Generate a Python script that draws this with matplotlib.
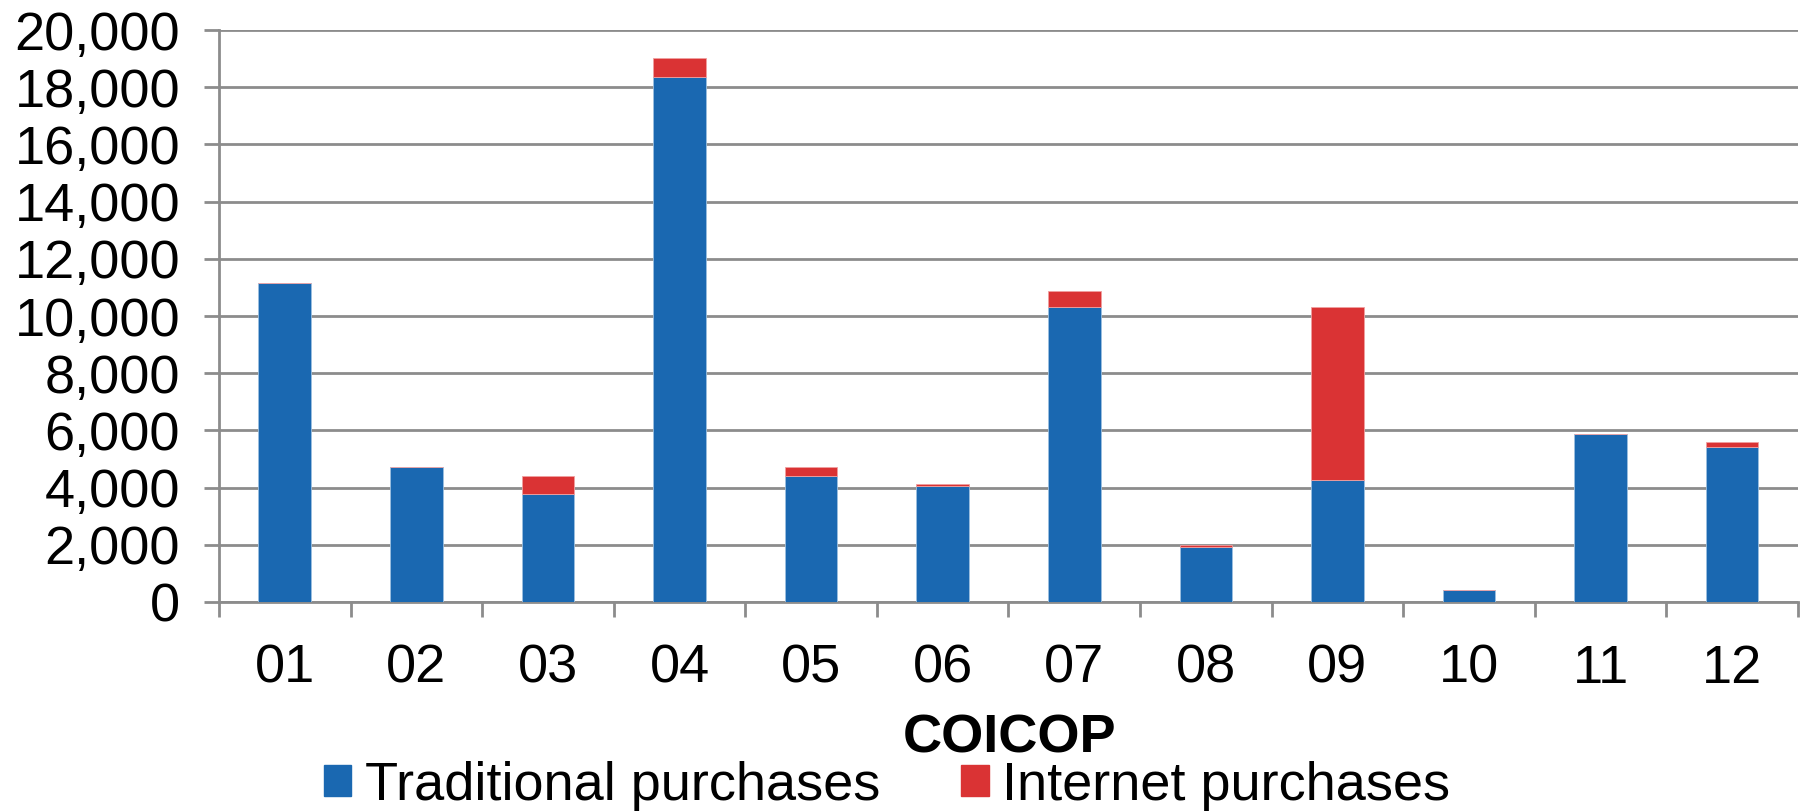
import numpy as np
import matplotlib
matplotlib.use("Agg")
import matplotlib.pyplot as plt
from matplotlib.patches import Patch
from matplotlib.ticker import FuncFormatter, FixedLocator

plt.rcParams["font.family"] = ["Liberation Sans", "DejaVu Sans"]

# ── data ──────────────────────────────────────────────────────────────────────
categories = ["01", "02", "03", "04", "05", "06", "07", "08", "09", "10", "11", "12"]
traditional = [11150, 4720, 3780, 18360, 4410, 4060, 10310, 1920, 4270, 420, 5870, 5420]
internet = [0, 0, 630, 660, 310, 70, 560, 70, 6040, 0, 0, 170]
y_ticks = [0, 2000, 4000, 6000, 8000, 10000, 12000, 14000, 16000, 18000, 20000]

BLUE = "#1a68b1"
RED = "#da3334"
GREY = "#8c8c8c"
FS = 39

fig = plt.figure(figsize=(18.07, 8.11), dpi=100)
ax = fig.add_axes([0.1212, 0.2577, 0.995 - 0.1212, 0.963 - 0.2577])

x = np.arange(len(categories))
ax.bar(x, traditional, width=0.4, color=BLUE, edgecolor="#9cc0e0", linewidth=0.6, zorder=3)
ax.bar(x, internet, width=0.4, bottom=traditional, color=RED, edgecolor="#f0a0a0",
       linewidth=0.6, zorder=3)

ax.set_xlim(-0.5, len(categories) - 0.5)
ax.set_ylim(0, 20000)
ax.set_yticks(y_ticks)
ax.yaxis.set_major_formatter(FuncFormatter(lambda v, _: f"{int(v):,}"))
ax.yaxis.grid(True, color=GREY, linewidth=2.0, zorder=0)

# category labels at bar centres, tick marks at the boundaries
ax.xaxis.set_major_locator(FixedLocator(np.arange(-0.5, len(categories), 1.0)))
ax.set_xticklabels([])
ax.xaxis.set_minor_locator(FixedLocator(x))
ax.set_xticklabels(categories, minor=True)
ax.tick_params(axis="x", which="major", direction="out", length=11, width=2, color=GREY)
ax.tick_params(axis="x", which="minor", length=0, pad=30, labelsize=FS)
ax.tick_params(axis="y", direction="out", length=11, width=2, color=GREY, pad=17, labelsize=FS)

for side in ("top", "right"):
    ax.spines[side].set_visible(False)
for side in ("left", "bottom"):
    ax.spines[side].set_color(GREY)
    ax.spines[side].set_linewidth(2)

fig.text(0.5585, 0.089, "COICOP", ha="center", va="center", fontsize=FS, fontweight="bold")

handles = [Patch(color=BLUE, label="Traditional purchases"),
           Patch(color=RED, label="Internet purchases")]
fig.legend(handles=handles, loc="center", bbox_to_anchor=(0.491, 0.031), ncol=2,
           frameon=False, fontsize=FS, handlelength=0.5, handleheight=0.5,
           handletextpad=0.25, columnspacing=1.5, borderpad=0, borderaxespad=0)

fig.savefig("out.png", dpi=100)
